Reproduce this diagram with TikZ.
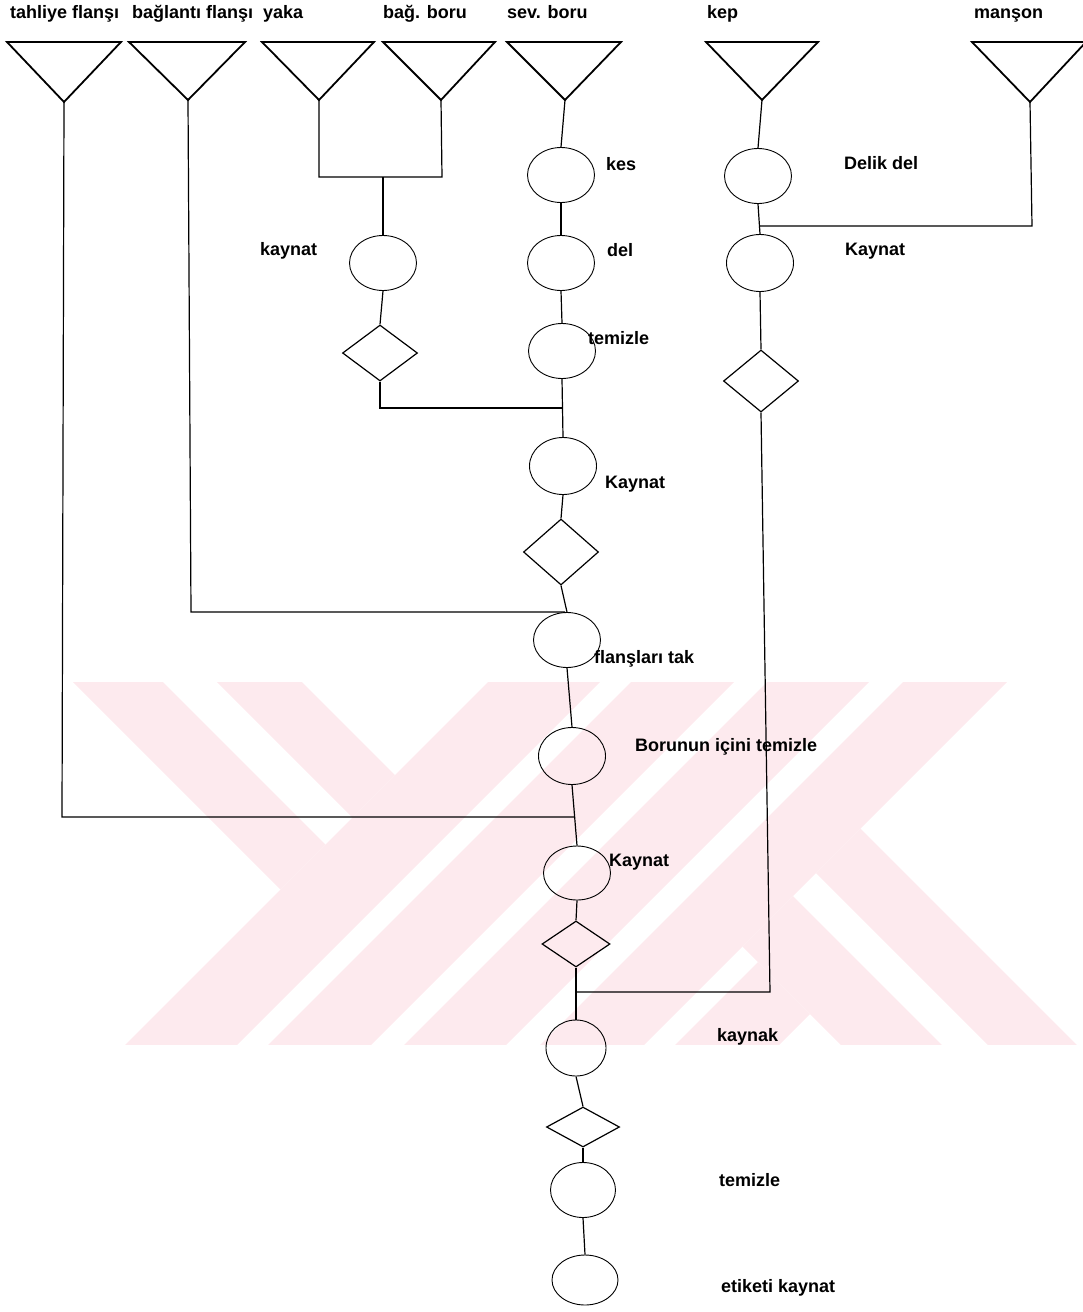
\documentclass[tikz,border=0pt]{standalone}
\usepackage{fontspec}
\setmainfont{Liberation Sans}
\usetikzlibrary{shapes.geometric}
\definecolor{wm}{RGB}{253,234,238}
\begin{document}
\begin{tikzpicture}[x=1pt,y=-1pt,
  proc/.style={draw, ellipse, line width=0.9pt, minimum width=67pt, minimum height=55pt, inner sep=0pt},
  chk/.style={draw, diamond, line width=1.2pt, minimum width=75pt, minimum height=62pt, inner sep=0pt},
  src/.style={line width=1.8pt, line join=miter},
  conn/.style={line width=1.2pt},
  lbl/.style={font=\fontsize{18}{21}\selectfont\bfseries, anchor=base west, inner sep=0pt},
  wmark/.style={fill=wm, draw=none}]
\useasboundingbox (0,0) rectangle (1083,1312);
% watermark
\begin{scope}
\clip (0,682) rectangle (1083,1044);
\fill[wmark] (-9,600) -- (81,600) -- (325.5,844.5) -- (280.5,889.5) -- cycle;
\fill[wmark] (135,600) -- (220,600) -- (395,775) -- (352.5,817.5) -- cycle;
\fill[wmark] (570,600) -- (682,600) -- (182,1100) -- (70,1100) -- cycle;
\fill[wmark] (713,600) -- (816,600) -- (316,1100) -- (213,1100) -- cycle;
\fill[wmark] (849,600) -- (951,600) -- (451,1100) -- (349,1100) -- cycle;
\fill[wmark] (985,600) -- (1089,600) -- (589,1100) -- (485,1100) -- cycle;
\fill[wmark] (742.5,946.5) -- (793,896) -- (997,1100) -- (896,1100) -- cycle;
\fill[wmark] (816,873) -- (860.5,828.5) -- (1132,1100) -- (1043,1100) -- cycle;
\fill[wmark] (758,962) -- (810,1014) -- (724,1100) -- (620,1100) -- cycle;
\end{scope}
% source triangles
\coordinate (t1) at (64,102);
\coordinate (t2) at (188,100);
\coordinate (t3) at (319,100);
\coordinate (t4) at (441,100);
\coordinate (t5) at (565,100);
\coordinate (t6) at (762,100);
\coordinate (t7) at (1030,102);
\draw[src] (7,42) -- (121,42) -- (t1) -- cycle;
\draw[src] (129,42) -- (245,42) -- (t2) -- cycle;
\draw[src] (262,42) -- (374,42) -- (t3) -- cycle;
\draw[src] (383,42) -- (495,42) -- (t4) -- cycle;
\draw[src] (507,42) -- (621,42) -- (t5) -- cycle;
\draw[src] (706,42) -- (818,42) -- (t6) -- cycle;
\draw[src] (972,42) -- (1086,42) -- (t7) -- cycle;
% main column
\node[proc] (kes) at (561,175) {};
\node[proc] (del) at (561,263) {};
\node[proc] (tem1) at (562,351) {};
\node[proc, minimum height=57pt] (kay2) at (563,466) {};
\node[chk, minimum height=66pt] (dM) at (561,552) {};
\node[proc] (flan) at (567,640) {};
\node[proc, minimum height=57pt] (bor) at (572,756) {};
\node[proc, minimum height=54pt] (kay3) at (577,873) {};
\node[chk, minimum width=68pt, minimum height=46pt] (d3) at (576,944) {};
\node[proc, minimum width=60pt, minimum height=56pt] (kynk) at (576,1048) {};
\node[chk, minimum width=73pt, minimum height=40pt] (d4) at (583,1127) {};
\node[proc, minimum width=65pt] (tem2) at (583,1190) {};
\node[proc, minimum width=66pt, minimum height=50pt] (etk) at (585,1280) {};
% left column
\node[proc] (kayL) at (383,263) {};
\node[chk, minimum height=56pt] (dL) at (380,353) {};
% kep column
\node[proc] (dlk) at (758,176) {};
\node[proc, minimum height=57pt] (kayK) at (760,263) {};
\node[chk] (dK) at (761,381) {};
% junction coordinates
\coordinate (ya) at (319,177);
\coordinate (bb) at (442,177);
\coordinate (jy) at (383,177);
\coordinate (jL) at (380,408);
\coordinate (jM) at (562,408);
\coordinate (cb) at (191,612);
\coordinate (mb) at (565,612);
\coordinate (ct) at (62,817);
\coordinate (mt) at (574,817);
\coordinate (cm) at (1032,226);
\coordinate (km) at (760,226);
\coordinate (ck) at (770,992);
\coordinate (mk) at (577,992);
% connectors
\draw[conn] (t5) -- (kes.north);
\draw[conn] (kes.south) -- (del.north);
\draw[conn] (del.south) -- (tem1.north);
\draw[conn] (tem1.south) -- (kay2.north);
\draw[conn] (kay2.south) -- (dM.north);
\draw[conn] (dM.south) -- (flan.north);
\draw[conn] (flan.south) -- (bor.north);
\draw[conn] (bor.south) -- (kay3.north);
\draw[conn] (kay3.south) -- (d3.north);
\draw[conn] (d3.south) -- (kynk.north);
\draw[conn] (kynk.south) -- (d4.north);
\draw[conn] (d4.south) -- (tem2.north);
\draw[conn] (tem2.south) -- (etk.north);
\draw[conn] (t3) -- (ya) -- (bb) -- (t4);
\draw[conn] (jy) -- (kayL.north);
\draw[conn] (kayL.south) -- (dL.north);
\draw[conn] (dL.south) -- (jL) -- (jM);
\draw[conn] (t2) -- (cb) -- (mb);
\draw[conn] (t1) -- (ct) -- (mt);
\draw[conn] (t6) -- (dlk.north);
\draw[conn] (dlk.south) -- (kayK.north);
\draw[conn] (t7) -- (cm) -- (km);
\draw[conn] (kayK.south) -- (dK.north);
\draw[conn] (dK.south) -- (ck) -- (mk);
% labels
\node[lbl] (l1) at (10,18) {tahliye flanşı};
\node[lbl] (l2) at (132,18) {bağlantı flanşı};
\node[lbl] (l3) at (263,18) {yaka};
\node[lbl] (l4) at (383,18) {bağ. boru};
\node[lbl] (l5) at (507,18) {sev. boru};
\node[lbl] (l6) at (707,18) {kep};
\node[lbl] (l7) at (974,18) {manşon};
\node[lbl] (lkes) at (606,170) {kes};
\node[lbl] (ldel) at (607,256) {del};
\node[lbl] (ltem1) at (588,344) {temizle};
\node[lbl] (lkayL) at (260,255) {kaynat};
\node[lbl] (ldlk) at (844,169) {Delik del};
\node[lbl] (lkayK) at (845,255) {Kaynat};
\node[lbl] (lkay2) at (605,488) {Kaynat};
\node[lbl] (lflan) at (594,663) {flanşları tak};
\node[lbl] (lbor) at (635,751) {Borunun içini temizle};
\node[lbl] (lkay3) at (609,866) {Kaynat};
\node[lbl] (lkynk) at (717,1041) {kaynak};
\node[lbl] (ltem2) at (719,1186) {temizle};
\node[lbl] (letk) at (721,1292) {etiketi kaynat};
\end{tikzpicture}
\end{document}
